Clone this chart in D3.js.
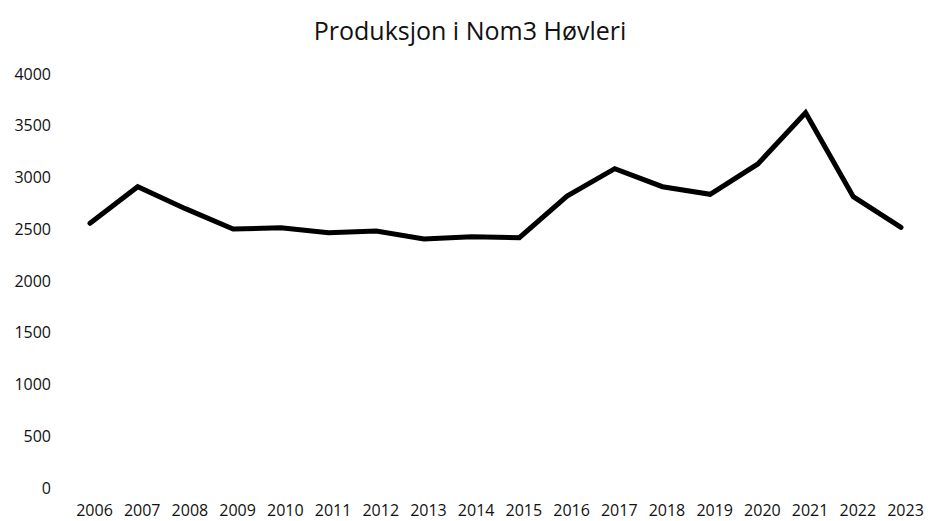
<!DOCTYPE html>
<html><head><meta charset="utf-8">
<script src="https://cdn.jsdelivr.net/npm/d3@7"></script>
<style>body{margin:0;background:#fff;}svg{display:block;}</style>
</head><body>
<svg id="chart" width="928" height="521"></svg>
<script>
const title = "Produksjon i Nom3 Høvleri";
const years = ["2006","2007","2008","2009","2010","2011","2012","2013","2014","2015","2016","2017","2018","2019","2020","2021","2022","2023"];
const production = [2557,2911,2699,2502,2515,2467,2483,2406,2428,2418,2821,3085,2911,2838,3131,3626,2815,2519];
const yTicks = [0,500,1000,1500,2000,2500,3000,3500,4000];

const svg = d3.select("#chart");
const font = "'Open Sans', sans-serif";

const x = d3.scalePoint().domain(years).range([90, 901]);
const y = d3.scaleLinear().domain([0, 4000]).range([488, 74]);

svg.append("text")
  .attr("x", 470).attr("y", 40)
  .attr("text-anchor", "middle")
  .attr("font-family", font).attr("font-size", 25)
  .attr("fill", "#111")
  .text(title);

const yAxis = d3.axisLeft(y).tickValues(yTicks).tickFormat(d3.format("d")).tickSize(0).tickPadding(0);
const gy = svg.append("g").attr("transform", "translate(51,0)").call(yAxis);
gy.select(".domain").remove();
gy.selectAll("text").attr("font-family", font).attr("font-size", 16).attr("fill", "#111");

const xAxis = d3.axisBottom(x).tickSize(0).tickPadding(0);
const gx = svg.append("g").attr("transform", "translate(4,505)").call(xAxis);
gx.select(".domain").remove();
gx.selectAll("text").attr("font-family", font).attr("font-size", 16).attr("fill", "#111");

const line = d3.line().x((d, i) => x(years[i])).y(d => y(d));
svg.append("path")
  .datum(production)
  .attr("d", line)
  .attr("fill", "none")
  .attr("stroke", "#000")
  .attr("stroke-width", 5)
  .attr("stroke-linejoin", "miter")
  .attr("stroke-linecap", "round");
</script>
</body></html>
